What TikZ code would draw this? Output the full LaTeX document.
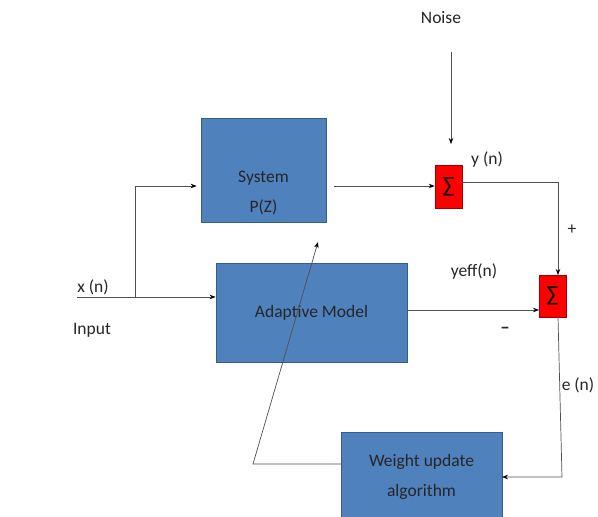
\documentclass[tikz,border=0pt]{standalone}
\usepackage{fontspec}
\setmainfont{Carlito}
\usetikzlibrary{arrows.meta,calc}
\definecolor{boxblue}{HTML}{4F81BD}
\definecolor{boxedge}{HTML}{385D8A}
\definecolor{sumred}{HTML}{FF0000}
\definecolor{sumedge}{HTML}{A00000}
\definecolor{wire}{HTML}{505050}
\begin{document}
\begin{tikzpicture}[x=1pt,y=-1pt,
  block/.style={draw=boxedge,line width=0.8pt,fill=boxblue,inner sep=0pt},
  sumbox/.style={draw=sumedge,line width=0.6pt,fill=sumred,minimum width=27pt,minimum height=43pt,inner sep=0pt,font=\fontsize{22}{22}\selectfont},
  lbl/.style={font=\fontsize{17.5}{20}\selectfont,text=black!85,inner sep=0pt},
  wireline/.style={draw=wire,line width=0.7pt},
  arr/.style={wireline,-{Stealth[length=6pt,width=4.5pt,color=black]}}]
\clip (0,0) rectangle (598,517);
\fill[white] (0,0) rectangle (598,517);
% blocks
\node[block,minimum width=125pt,minimum height=104pt] (sys) at (263.5,170) {};
\node[lbl] (syst) at (263.5,178) {System};
\node[lbl] (pz) at (263.5,207) {P(Z)};
\node[block,minimum width=191pt,minimum height=99pt] (am) at (311.5,313) {};
\node[lbl] (amt) at (311.5,313) {Adaptive Model};
\node[block,minimum width=161pt,minimum height=93pt] (wu) at (421.5,478.5) {};
\node[lbl] (wut1) at (421.5,462) {Weight update};
\node[lbl] (wut2) at (421.5,492) {algorithm};
\node[sumbox] (s1) at (448.5,186.5) {∑};
\node[sumbox,minimum height=42pt] (s2) at (552.5,296) {∑};
% labels
\node[lbl] (noise) at (441,18) {Noise};
\node[lbl] (xn) at (93,287) {x (n)};
\node[lbl] (inp) at (92,330) {Input};
\node[lbl] (yn) at (487,160) {y (n)};
\node[lbl] (plus) at (572,230) {+};
\node[lbl] (yeff) at (474,272) {yeff(n)};
\node[lbl,font=\bfseries\fontsize{19}{20}\selectfont] (minus) at (505,330) {--};
\node[lbl] (en) at (578,385) {e (n)};
% coordinates
\coordinate (nz0) at (451,52);
\coordinate (nz1) at (451,144);
\coordinate (in0) at (77,297);
\coordinate (br) at (135,297);
\coordinate (brt) at (135,186);
\coordinate (sysout) at (334,186);
\coordinate (s1out) at (462,182);
\coordinate (yc) at (558,182);
\coordinate (s2in) at (558,275);
\coordinate (amout) at (407,310);
\coordinate (s2l) at (539,310);
\coordinate (s2b) at (558,317);
\coordinate (ec) at (562,477);
\coordinate (wuin) at (502,477);
\coordinate (wuout) at (341,464);
\coordinate (fbc) at (253,464);
\coordinate (fbtip) at (318,242);
% connectors
\draw[arr] (nz0) -- (nz1);
\draw[wireline] (in0) -- (br);
\draw[arr] (br) -- (br -| am.west);
\draw[arr] (br) -- (brt) -- ([xshift=-4pt]brt -| sys.west);
\draw[arr] (sysout) -- (s1.west |- sysout);
\draw[arr] (s1out) -- (yc) -- (s2in);
\draw[arr] (amout) -- (s2l);
\draw[arr] (s2b) -- (ec) -- (wuin);
\draw[arr] (wuout) -- (fbc) -- (fbtip);
\end{tikzpicture}
\end{document}
